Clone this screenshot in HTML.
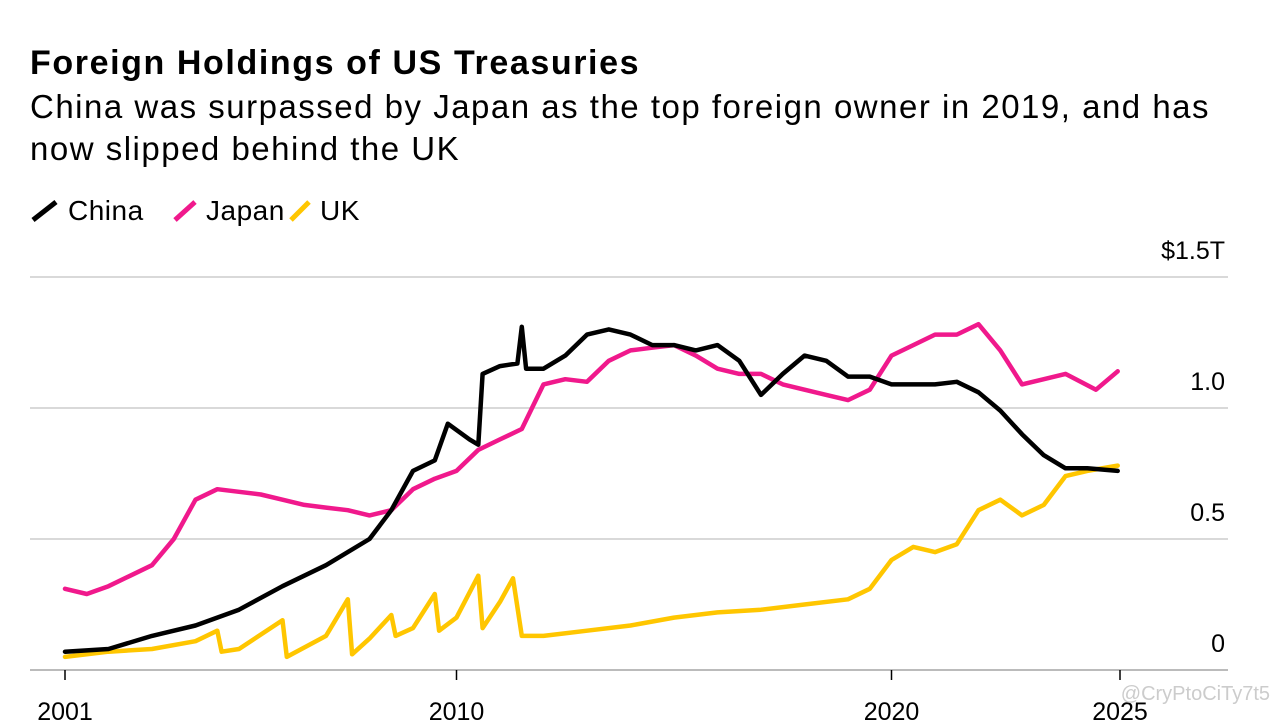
<!DOCTYPE html>
<html><head><meta charset="utf-8">
<style>
html,body{margin:0;padding:0;background:#fff;width:1280px;height:720px;overflow:hidden;font-family:"Liberation Sans",Arial,sans-serif;}
#title{position:absolute;left:30px;top:44px;font-size:34px;font-weight:bold;color:#000;letter-spacing:1.6px;}
#subtitle{position:absolute;left:30px;top:86px;font-size:33px;line-height:42px;color:#000;width:1240px;letter-spacing:1.5px;}
#legend{position:absolute;left:30px;top:195px;font-size:28px;color:#000;letter-spacing:0.5px;}
.leg{position:absolute;display:flex;align-items:center;gap:8px;white-space:nowrap;}
svg{position:absolute;left:0;top:0;}
</style></head><body>
<div id="title">Foreign Holdings of US Treasuries</div>
<div id="subtitle">China was surpassed by Japan as the top foreign owner in 2019, and has<br>now slipped behind the UK</div>
<div id="legend">
 <div class="leg" style="left:0"><svg style="position:static" width="30" height="24"><line x1="3" y1="21" x2="26" y2="3" stroke="#000" stroke-width="5"/></svg>China</div>
 <div class="leg" style="left:142px"><svg style="position:static" width="26" height="24"><line x1="3" y1="21" x2="23" y2="3" stroke="#f0198c" stroke-width="5"/></svg>Japan</div>
 <div class="leg" style="left:258px"><svg style="position:static" width="24" height="24"><line x1="3" y1="21" x2="21" y2="3" stroke="#ffc600" stroke-width="5"/></svg>UK</div>
</div>
<svg id="chart" width="1280" height="720"></svg>
<script>
const yTicks=[0,0.5,1.0,1.5];
const yTickLabels=["0","0.5","1.0","$1.5T"];
const xTicks=[2001,2010,2020,2025];
const chinaT=[2001,2002,2003,2004,2005,2006,2007,2008,2008.5,2009,2009.5,2009.8,2010.3,2010.5,2010.6,2011,2011.4,2011.5,2011.6,2012,2012.5,2013,2013.5,2014,2014.5,2015,2015.5,2016,2016.5,2017,2017.5,2018,2018.5,2019,2019.5,2020,2020.5,2021,2021.5,2022,2022.5,2023,2023.5,2024,2024.5,2025.2];
const chinaV=[0.07,0.08,0.13,0.17,0.23,0.32,0.40,0.50,0.61,0.76,0.80,0.94,0.88,0.86,1.13,1.16,1.17,1.31,1.15,1.15,1.20,1.28,1.30,1.28,1.24,1.24,1.22,1.24,1.18,1.05,1.13,1.20,1.18,1.12,1.12,1.09,1.09,1.09,1.10,1.06,0.99,0.90,0.82,0.77,0.77,0.76];
const japanT=[2001,2001.5,2002,2002.5,2003,2003.5,2004,2004.5,2005,2005.5,2006,2006.5,2007,2007.5,2008,2008.5,2009,2009.5,2010,2010.5,2011,2011.5,2012,2012.5,2013,2013.5,2014,2014.5,2015,2015.5,2016,2016.5,2017,2017.5,2018,2018.5,2019,2019.5,2020,2020.5,2021,2021.5,2022,2022.5,2023,2023.5,2024,2024.7,2025.2];
const japanV=[0.31,0.29,0.32,0.36,0.40,0.50,0.65,0.69,0.68,0.67,0.65,0.63,0.62,0.61,0.59,0.61,0.69,0.73,0.76,0.84,0.88,0.92,1.09,1.11,1.10,1.18,1.22,1.23,1.24,1.20,1.15,1.13,1.13,1.09,1.07,1.05,1.03,1.07,1.20,1.24,1.28,1.28,1.32,1.22,1.09,1.11,1.13,1.07,1.14];
const ukT=[2001,2002,2003,2004,2004.5,2004.6,2005,2006,2006.1,2007,2007.5,2007.6,2008,2008.5,2008.6,2009,2009.5,2009.6,2010,2010.5,2010.6,2011,2011.3,2011.5,2012,2013,2014,2015,2016,2017,2018,2019,2019.5,2020,2020.5,2021,2021.5,2022,2022.5,2023,2023.5,2024,2024.5,2025.2];
const ukV=[0.05,0.07,0.08,0.11,0.15,0.07,0.08,0.19,0.05,0.13,0.27,0.06,0.12,0.21,0.13,0.16,0.29,0.15,0.20,0.36,0.16,0.26,0.35,0.13,0.13,0.15,0.17,0.20,0.22,0.23,0.25,0.27,0.31,0.42,0.47,0.45,0.48,0.61,0.65,0.59,0.63,0.74,0.76,0.78];
const svg=document.getElementById('chart');
const NS='http://www.w3.org/2000/svg';
const xS=t=>65+(t-2001)*43.5;
const yS=v=>670-v*262;
function mk(tag,attrs){const e=document.createElementNS(NS,tag);for(const k in attrs)e.setAttribute(k,attrs[k]);svg.appendChild(e);return e;}
yTicks.forEach((v,i)=>{
 const g=mk('line',{x1:30,x2:1228,y1:yS(v),y2:yS(v),stroke:i==0?'#bbb':'#d9d9d9','stroke-width':2});
 
 
 const t=mk('text',{x:1225,y:yS(v)-18,'text-anchor':'end','font-size':25,fill:'#000','font-family':'Liberation Sans, Arial, sans-serif'});
 t.textContent=yTickLabels[i];
 
 
});
xTicks.forEach(y=>{
 const x=y==2025?1120:xS(y);
 const l=mk('line',{x1:x,x2:x,y1:670,y2:680,stroke:'#000','stroke-width':1.5});
 
 
 const t=mk('text',{x:x,y:720,'text-anchor':'middle','font-size':25,fill:'#000','font-family':'Liberation Sans, Arial, sans-serif'});
 t.textContent=y;
 
 
});
function series(T,V,color,name){
 const d=T.map((t,i)=>(i?'L':'M')+xS(t).toFixed(1)+','+yS(V[i]).toFixed(1)).join('');
 const p=mk('path',{d:d,fill:'none',stroke:color,'stroke-width':4.5,'stroke-linejoin':'round','stroke-linecap':'round'});
 
 
}
series(ukT,ukV,'#ffc600','line-uk');
series(japanT,japanV,'#f0198c','line-japan');
series(chinaT,chinaV,'#000','line-china');
const w=mk('text',{x:1270,y:700,'text-anchor':'end','font-size':20,fill:'#ccc','font-family':'Liberation Sans, Arial, sans-serif'});
w.textContent='@CryPtoCiTy7t5';


</script>
</body></html>
